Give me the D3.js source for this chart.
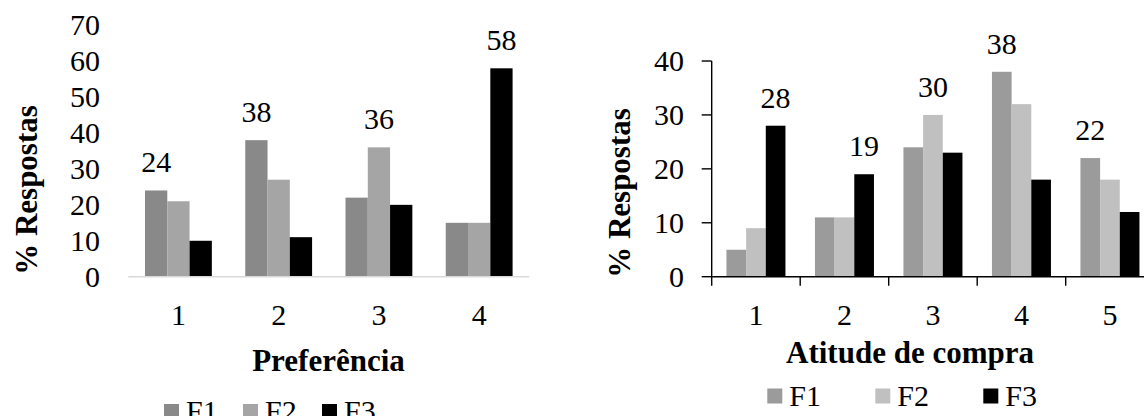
<!DOCTYPE html>
<html>
<head>
<meta charset="utf-8">
<script src="https://cdn.jsdelivr.net/npm/d3@7"></script>
<style>
  body { margin: 0; background: #fff; }
  svg { display: block; }
</style>
</head>
<body>
<svg id="chart" width="1144" height="416" font-family="Liberation Serif"></svg>
<script>
// series names shared by both charts
const seriesNames = ["F1", "F2", "F3"];

// left chart: preferencia
const prefCategories = ["1", "2", "3", "4"];
const prefF1 = [24, 38, 22, 15];
const prefF2 = [21, 27, 36, 15];
const prefF3 = [10, 11, 20, 58];
const prefTicks = [0, 10, 20, 30, 40, 50, 60, 70];

// right chart: atitude de compra
const atitCategories = ["1", "2", "3", "4", "5"];
const atitF1 = [5, 11, 24, 38, 22];
const atitF2 = [9, 11, 30, 32, 18];
const atitF3 = [28, 19, 23, 18, 12];
const atitTicks = [0, 10, 20, 30, 40];

const FONT = "Liberation Serif";
const svg = d3.select("#chart");

function drawChart(opts) {
  const g = svg.append("g").attr("font-family", FONT);
  const rows = opts.categories.map((c, i) => ({
    cat: c,
    vals: opts.series.map((s, k) => ({ name: seriesNames[k], v: s[i] })),
  }));

  const x0 = d3.scaleBand().domain(opts.categories).range(opts.xRange);
  const step = x0.step();
  // excel gap width 150%
  const x1 = d3.scaleBand().domain(seriesNames).range([step / 6, step * 5 / 6]);
  const y = d3.scaleLinear().domain(opts.yDomain).range(opts.yRange);

  // bars
  const groups = g.selectAll(".grp")
    .data(rows)
    .join("g")
    .attr("transform", (d) => `translate(${x0(d.cat)},0)`);

  groups.selectAll("rect")
    .data((d) => d.vals)
    .join("rect")
    .attr("x", (d) => x1(d.name))
    .attr("width", x1.bandwidth())
    .attr("y", (d) => y(d.v))
    .attr("height", (d) => y(0) - y(d.v))
    .attr("fill", (d, k) => opts.colors[k]);

  // value label only on the tallest bar of each group
  groups.append("text")
    .attr("x", (d) => {
      const top = d3.greatest(d.vals, (v) => v.v);
      return x1(top.name) + x1.bandwidth() / 2;
    })
    .attr("y", (d) => y(d3.max(d.vals, (v) => v.v)) - 18)
    .attr("text-anchor", "middle")
    .attr("font-size", 30)
    .text((d) => d3.max(d.vals, (v) => v.v));

  // y tick labels
  g.selectAll(".ytl")
    .data(opts.ticks)
    .join("text")
    .attr("x", opts.yLabelX)
    .attr("y", (d) => y(d))
    .attr("dy", "0.34em")
    .attr("text-anchor", "end")
    .attr("font-size", 30)
    .text((d) => d);

  // x tick labels
  g.selectAll(".xtl")
    .data(opts.categories)
    .join("text")
    .attr("x", (d) => x0(d) + step / 2)
    .attr("y", 325)
    .attr("text-anchor", "middle")
    .attr("font-size", 30)
    .text((d) => d);

  if (opts.axisLines) {
    // black axes with outward ticks
    g.append("line")
      .attr("x1", opts.xRange[0]).attr("x2", 1144)
      .attr("y1", y(0)).attr("y2", y(0))
      .style("stroke", "#000").style("stroke-width", 1.4);
    g.append("line")
      .attr("x1", opts.xRange[0]).attr("x2", opts.xRange[0])
      .attr("y1", y(0) + 9).attr("y2", y(opts.yDomain[1]))
      .style("stroke", "#000").style("stroke-width", 1.4);
    g.selectAll(".yt")
      .data(opts.ticks)
      .join("line")
      .attr("x1", opts.xRange[0] - 10).attr("x2", opts.xRange[0])
      .attr("y1", (d) => y(d)).attr("y2", (d) => y(d))
      .style("stroke", "#000").style("stroke-width", 1.4);
    g.selectAll(".xt")
      .data(opts.categories.slice(1))
      .join("line")
      .attr("x1", (d) => x0(d)).attr("x2", (d) => x0(d))
      .attr("y1", y(0)).attr("y2", y(0) + 9)
      .style("stroke", "#000").style("stroke-width", 1.4);
  } else {
    // light gray baseline only
    g.append("line")
      .attr("x1", opts.xRange[0]).attr("x2", opts.xRange[1])
      .attr("y1", y(0)).attr("y2", y(0))
      .style("stroke", "#d9d9d9").style("stroke-width", 1.5);
  }

  // axis titles
  g.append("text")
    .attr("transform", `translate(${opts.yTitleX},${opts.yTitleY}) rotate(-90)`)
    .attr("text-anchor", "middle")
    .attr("font-size", 31)
    .attr("font-weight", "bold")
    .text("% Respostas");

  g.append("text")
    .attr("x", opts.xTitleX)
    .attr("y", opts.xTitleY)
    .attr("text-anchor", "middle")
    .attr("font-size", 31)
    .attr("font-weight", "bold")
    .text(opts.xTitle);

  // legend
  const leg = g.selectAll(".leg")
    .data(seriesNames)
    .join("g")
    .attr("transform", (d, i) => `translate(${opts.legX + i * opts.legStep},${opts.legY})`);
  leg.append("rect")
    .attr("width", 15).attr("height", 15)
    .attr("fill", (d, i) => opts.colors[i]);
  leg.append("text")
    .attr("x", 22)
    .attr("y", opts.legTextDy)
    .attr("font-size", 30)
    .text((d) => d);
}

drawChart({
  categories: prefCategories,
  series: [prefF1, prefF2, prefF3],
  ticks: prefTicks,
  colors: ["#898989", "#a5a5a5", "#000000"],
  xRange: [128.3, 529.3],
  yDomain: [0, 70],
  yRange: [276.7, 25.2],
  yLabelX: 100,
  axisLines: false,
  yTitleX: 37, yTitleY: 190,
  xTitle: "Preferência", xTitleX: 328.5, xTitleY: 371,
  legX: 164, legStep: 79, legY: 404, legTextDy: 17,
});

drawChart({
  categories: atitCategories,
  series: [atitF1, atitF2, atitF3],
  ticks: atitTicks,
  colors: ["#9b9b9b", "#c0c0c0", "#000000"],
  xRange: [711.7, 1154.2],
  yDomain: [0, 40],
  yRange: [276.7, 61],
  yLabelX: 684,
  axisLines: true,
  yTitleX: 630, yTitleY: 193,
  xTitle: "Atitude de compra", xTitleX: 910, xTitleY: 363,
  legX: 767.3, legStep: 108, legY: 388.5, legTextDy: 17.5,
});
</script>
</body>
</html>
